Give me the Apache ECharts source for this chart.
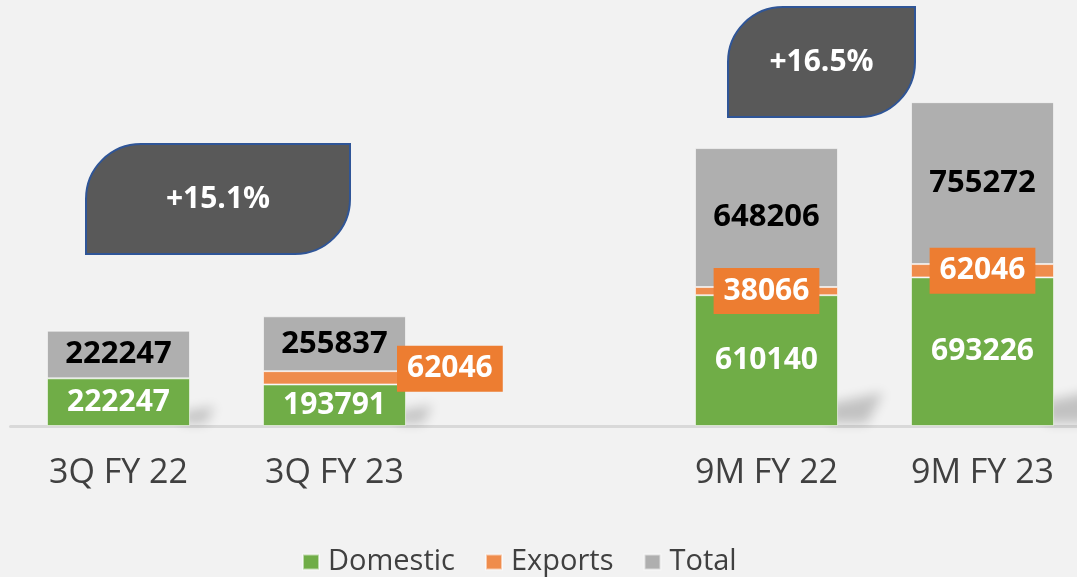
<!DOCTYPE html>
<html>
<head>
<meta charset="utf-8">
<script src="https://cdn.jsdelivr.net/npm/echarts@6/dist/echarts.min.js"></script>
<style>
html,body{margin:0;padding:0;background:#F2F2F2;}
#c{width:1077px;height:577px;}
</style>
</head>
<body>
<div id="c"></div>
<script>
const categories = ['3Q FY 22', '3Q FY 23', '', '9M FY 22', '9M FY 23'];
const domestic = [222247, 193791, null, 610140, 693226];
const exportsVals = [null, 62046, null, 38066, 62046];
const total = [222247, 255837, null, 648206, 755272];
const growthLabels = ['+15.1%', '+16.5%'];

const FONT = '"Open Sans", "Noto Sans", sans-serif';
const chart = echarts.init(document.getElementById('c'), null, {renderer: 'canvas'});

const exportsData = exportsVals.map((v, i) => {
  if (v == null) return '-';
  if (i === 1) {
    return {value: v, label: {position: 'right', distance: 0, offset: [-9, -9]}};
  }
  return v;
});

const stackSums = categories.map((c, i) =>
  (domestic[i] || 0) + (exportsVals[i] || 0) + (total[i] || 0));
const shadowData = stackSums.map((s, i) => [i, s]).filter(d => d[1] > 0);

const BAR_W = 143;
const OFF = 3000;

function callout(left, top, w, h, text) {
  return {
    type: 'group', left: left, top: top, silent: true,
    children: [
      {type: 'rect', shape: {x: 0, y: 0, width: w, height: h, r: [h / 2, 0, h / 2, 0]},
       style: {fill: '#595959', stroke: '#2F5597', lineWidth: 2}},
      {type: 'text', x: w / 2, y: h / 2,
       style: {text: text, fill: '#FFFFFF', font: 'bold 30px ' + FONT, align: 'center', verticalAlign: 'middle'}}
    ]
  };
}

const option = {
  backgroundColor: '#F2F2F2',
  animation: false,
  grid: {left: 10.5, width: 1080, top: 83, height: 343, containLabel: false, outerBoundsMode: 'none'},
  xAxis: {
    type: 'category', data: categories,
    axisLine: {lineStyle: {color: '#D9D9D9', width: 3}},
    axisTick: {show: false},
    axisLabel: {color: '#404040', fontFamily: FONT, fontSize: 34, lineHeight: 36, margin: 29}
  },
  yAxis: {type: 'value', min: 0, max: 1600000, show: false, splitLine: {show: false}},
  legend: {
    data: ['Domestic', 'Exports', 'Total'],
    left: 297, top: 542,
    itemWidth: 16, itemHeight: 15, itemGap: 30,
    icon: 'rect',
    textStyle: {color: '#404040', fontFamily: FONT, fontSize: 29, lineHeight: 30, padding: [0, 0, 0, 4]}
  },
  graphic: [
    callout(85, 143, 264, 110, growthLabels[0]),
    callout(727, 6, 187, 110, growthLabels[1])
  ],
  series: [
    {
      type: 'custom', silent: true, z: 1, clip: false,
      data: shadowData,
      renderItem: function (params, api) {
        const p = api.coord([api.value(0), 0]);
        const H = api.size([0, api.value(1)])[1];
        const h = 10 + 0.08 * H;
        const xr = p[0] + BAR_W / 2 - OFF;
        const y0 = p[1] - 3;
        return {
          type: 'polygon',
          shape: {points: [[xr - 8, y0], [xr - 8, y0 - h * 0.6], [xr + 1.4 * h, y0 - h * 0.95], [xr + 0.9 * h, y0]]},
          style: {
            fill: '#000',
            shadowBlur: 12, shadowColor: 'rgba(0,0,0,0.2)', shadowOffsetX: OFF, shadowOffsetY: 0
          }
        };
      }
    },
    {
      name: 'Domestic', type: 'bar', stack: 's', barWidth: BAR_W, z: 2,
      data: domestic.map(v => v == null ? '-' : v),
      itemStyle: {color: '#70AD47', borderColor: 'rgba(255,255,255,0.55)', borderWidth: 1},
      label: {show: true, position: 'inside', color: '#FFFFFF', fontFamily: FONT, fontWeight: 'bold', fontSize: 30}
    },
    {
      name: 'Exports', type: 'bar', stack: 's', barWidth: BAR_W, z: 2,
      data: exportsData,
      itemStyle: {color: '#EF8C4C', borderColor: 'rgba(255,255,255,0.55)', borderWidth: 1},
      label: {show: true, position: 'inside', color: '#FFFFFF', fontFamily: FONT, fontWeight: 'bold', fontSize: 30,
              lineHeight: 30, backgroundColor: '#ED7D31', padding: [8, 10, 8, 10]}
    },
    {
      name: 'Total', type: 'bar', stack: 's', barWidth: BAR_W, z: 2,
      data: total.map(v => v == null ? '-' : v),
      itemStyle: {color: '#AFAFAF', borderColor: 'rgba(255,255,255,0.55)', borderWidth: 1},
      label: {show: true, position: 'inside', color: '#000000', fontFamily: FONT, fontWeight: 'bold', fontSize: 31}
    }
  ]
};
chart.setOption(option);
</script>
</body>
</html>
